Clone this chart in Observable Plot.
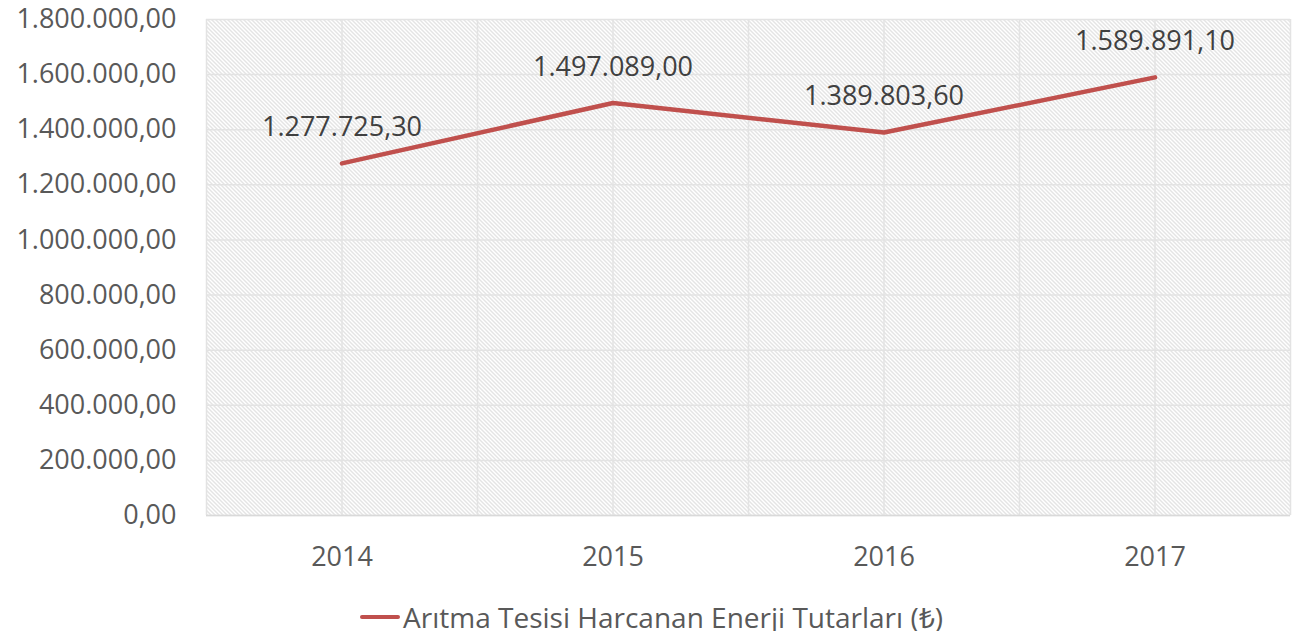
<!DOCTYPE html>
<html>
<head>
<meta charset="utf-8">
<script src="https://cdn.jsdelivr.net/npm/d3@7"></script>
<script src="https://cdn.jsdelivr.net/npm/@observablehq/plot@0.6"></script>
<style>
  body { margin: 0; background: #fff; font-family: "Open Sans", sans-serif; }
  #legend { display: flex; align-items: center; justify-content: center; margin-top: 23px; color: #595959; font-size: 28px; padding-left: 0; line-height: 1; }
  #legend .sw { width: 40px; height: 4px; background: #c0504d; border-radius: 2px; margin-right: 3px; }
</style>
</head>
<body>
<div id="chart"></div>
<div id="legend"><span class="sw"></span><span id="legtext"></span></div>
<script>
const years = [2014, 2015, 2016, 2017];
const values = [1277725.30, 1497089.00, 1389803.60, 1589891.10];
const yTicks = [0, 200000, 400000, 600000, 800000, 1000000, 1200000, 1400000, 1600000, 1800000];
const seriesName = "Arıtma Tesisi Harcanan Enerji Tutarları (₺)";

const data = years.map((y, i) => ({year: y, value: values[i]}));
const tr = d3.formatLocale({decimal: ",", thousands: ".", grouping: [3], currency: ["₺", ""]});
const fmt = tr.format(",.2f");
const xGrid = d3.range(years[0] - 0.5, years[years.length - 1] + 0.51, 0.5);

const chart = Plot.plot({
  width: 1303,
  height: 580,
  marginLeft: 206,
  marginRight: 13,
  marginTop: 19,
  marginBottom: 65,
  style: {fontFamily: "Open Sans, sans-serif", fontSize: "27px", color: "#595959", background: "#fff", overflow: "visible"},
  x: {domain: [years[0] - 0.5, years[years.length - 1] + 0.5], ticks: years, tickFormat: d => String(d), tickSize: 0, tickPadding: 31, label: null},
  y: {domain: [0, 1800000], ticks: yTicks, tickFormat: fmt, tickSize: 0, tickPadding: 30, label: null},
  marks: [
    Plot.frame({fill: "url(#hatch)", stroke: null}),
    Plot.ruleY(yTicks, {stroke: "#e3e3e3", strokeWidth: 1.5}),
    Plot.ruleX(xGrid, {stroke: "#e3e3e3", strokeWidth: 1.5}),
    Plot.ruleY([0], {stroke: "#d9d9d9", strokeWidth: 1.5}),
    Plot.line(data, {x: "year", y: "value", stroke: "#c0504d", strokeWidth: 4.5, strokeLinecap: "round", strokeLinejoin: "round"}),
    Plot.text(data, {x: "year", y: "value", text: d => fmt(d.value), dy: -36, fill: "#404040", fontSize: 27})
  ]
});

const ns = "http://www.w3.org/2000/svg";
const defs = document.createElementNS(ns, "defs");
defs.innerHTML = '<pattern id="hatch" patternUnits="userSpaceOnUse" width="4" height="4">' +
  '<rect width="4" height="4" fill="#ffffff"/>' +
  '<path d="M-1,-1 L5,5 M-1,3 L1,5 M3,-1 L5,1" stroke="#c8c8c8" stroke-width="1"/></pattern>';
chart.insertBefore(defs, chart.firstChild);
document.getElementById("chart").appendChild(chart);
document.getElementById("legtext").textContent = seriesName;
</script>
</body>
</html>
